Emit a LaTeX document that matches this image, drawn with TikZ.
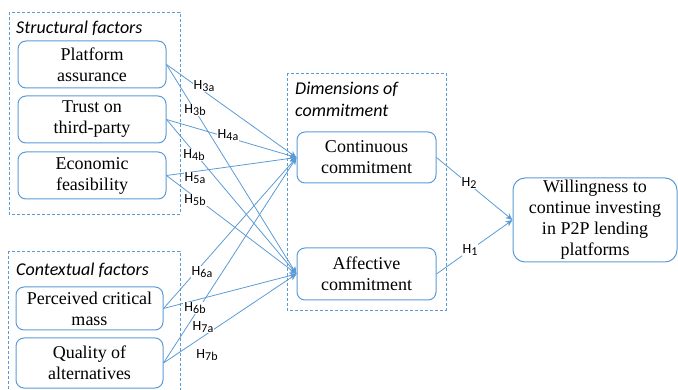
\documentclass[tikz,border=0pt]{standalone}
\usepackage{fontspec}
\setmainfont{Liberation Serif}
\newfontfamily\labelfont{Carlito}
\usetikzlibrary{arrows.meta}

\definecolor{lineblue}{RGB}{91,155,213}

\newcommand{\hlabel}[1]{H\raisebox{-1.5pt}{\fontsize{12}{12}\selectfont #1}}

\tikzset{
  factor/.style={draw=lineblue, line width=1pt, rounded corners=8pt,
    minimum width=148pt, minimum height=47pt, align=center, inner sep=1pt,
    font=\fontsize{18}{21}\selectfont},
  group/.style={draw=lineblue, line width=0.8pt, dash pattern=on 3pt off 2pt},
  grouptitle/.style={anchor=west, align=left, inner sep=0pt,
    font=\labelfont\itshape\fontsize{18}{22}\selectfont},
  link/.style={draw=lineblue, line width=0.8pt, -{Stealth[length=7pt,width=6pt]}},
  hyp/.style={fill=white, inner sep=1pt, font=\labelfont\fontsize{14}{14}\selectfont}
}

\begin{document}
\begin{tikzpicture}[x=1pt, y=-1pt]

\useasboundingbox (0,0) rectangle (678,390);

% groups
\draw[group] (9,12) rectangle (180,214);
\node[grouptitle] (st) at (16,28) {Structural factors};
\draw[group] (8,251) rectangle (180,400);
\node[grouptitle] (ct) at (16,270) {Contextual factors};
\draw[group] (287,73) rectangle (446,310);
\node[grouptitle] (dt) at (295,99) {Dimensions of\\commitment};

% constructs
\node[factor] (pa) at (92,64.5) {Platform\\assurance};
\node[factor] (tt) at (92,119.5) {Trust on\\third-party};
\node[factor] (ef) at (92,175.5) {Economic\\feasibility};
\node[factor, minimum width=147pt, minimum height=43pt] (pcm) at (89.5,308.5) {Perceived critical\\mass};
\node[factor, minimum width=147pt, minimum height=50pt] (qa) at (89.5,363) {Quality of\\alternatives};
\node[factor, minimum width=139pt, minimum height=51pt] (cc) at (366.5,157.5) {Continuous\\commitment};
\node[factor, minimum width=139pt, minimum height=52pt] (ac) at (366.5,274) {Affective\\commitment};
\node[factor, minimum width=164pt, minimum height=84pt, rounded corners=12pt] (wci) at (595,220)
  {Willingness to\\continue investing\\in P2P lending\\platforms};

% paths
\draw[link] (pa.east) -- (cc.west);
\draw[link] (pa.east) -- (ac.west);
\draw[link] (tt.east) -- (cc.west);
\draw[link] (tt.east) -- (ac.west);
\draw[link] (ef.east) -- (cc.west);
\draw[link] (ef.east) -- (ac.west);
\draw[link] (pcm.east) -- (cc.west);
\draw[link] (pcm.east) -- (ac.west);
\draw[link] (qa.east) -- (cc.west);
\draw[link] (qa.east) -- (ac.west);
\draw[link] (cc.east) -- (wci.west);
\draw[link] (ac.east) -- (wci.west);

% hypotheses
\node[hyp] (h3a) at (204,86) {\hlabel{3a}};
\node[hyp] (h3b) at (195,110) {\hlabel{3b}};
\node[hyp] (h4a) at (228,135) {\hlabel{4a}};
\node[hyp] (h4b) at (194,155) {\hlabel{4b}};
\node[hyp] (h5a) at (195,178) {\hlabel{5a}};
\node[hyp] (h5b) at (195,200) {\hlabel{5b}};
\node[hyp] (h6a) at (202,272) {\hlabel{6a}};
\node[hyp] (h6b) at (195,308) {\hlabel{6b}};
\node[hyp] (h7a) at (203,327) {\hlabel{7a}};
\node[hyp] (h7b) at (207,355) {\hlabel{7b}};
\node[hyp] (h2) at (469,183) {\hlabel{2}};
\node[hyp] (h1) at (470,250) {\hlabel{1}};

\end{tikzpicture}
\end{document}
